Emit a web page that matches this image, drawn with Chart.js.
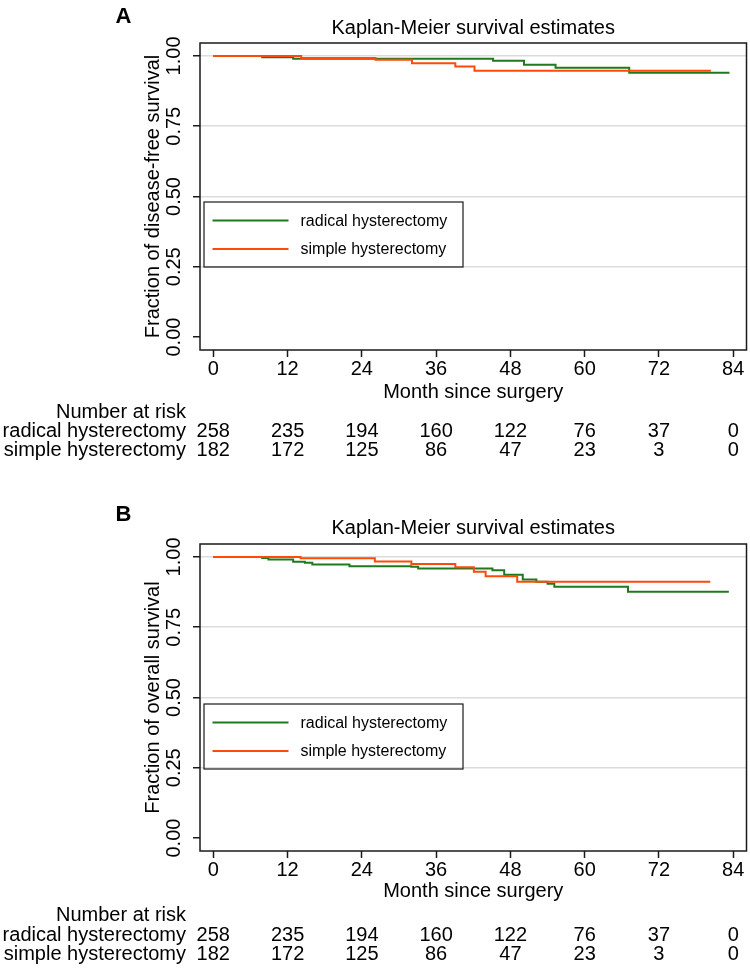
<!DOCTYPE html>
<html lang="en">
<head>
<meta charset="UTF-8">
<title>Kaplan-Meier survival estimates</title>
<script src="https://cdn.jsdelivr.net/npm/chart.js"></script>
<style>
    body { margin: 0; background: #fff; }
    .panel { position: absolute; left: 0; }
</style>
</head>
<body>
<canvas id="chartA" class="panel" style="top:0" width="750" height="501"></canvas>
<canvas id="chartB" class="panel" style="top:501px" width="750" height="475"></canvas>
<script>
// axis ticks
const monthTicks = [0, 12, 24, 36, 48, 60, 72, 84];
const survTicks = [0, 0.25, 0.5, 0.75, 1];
const groupNames = ['radical hysterectomy', 'simple hysterectomy'];

// number at risk (same table under both panels)
const riskRadical = [258, 235, 194, 160, 122, 76, 37, 0];
const riskSimple = [182, 172, 125, 86, 47, 23, 3, 0];

// panel A - disease-free survival, step times (months) and survival
const dfsRadicalT = [0, 7.9, 12.9, 45.2, 50.2, 55.3, 67.2, 83.4];
const dfsRadicalS = [1, 0.995, 0.990, 0.983, 0.969, 0.958, 0.940, 0.940];
const dfsSimpleT = [0, 14.2, 26.2, 32.1, 39.1, 42.2, 80.4];
const dfsSimpleS = [1, 0.993, 0.986, 0.974, 0.962, 0.947, 0.947];

// panel B - overall survival
const osRadicalT = [0, 7.9, 8.9, 12.9, 14.8, 16.0, 22.0, 32.0, 33.1, 45.1, 47.0, 50.0, 52.2, 54.0, 55.1, 67.0, 83.3];
const osRadicalS = [1, 0.996, 0.991, 0.983, 0.979, 0.973, 0.967, 0.965, 0.959, 0.953, 0.937, 0.920, 0.912, 0.905, 0.894, 0.876, 0.876];
const osSimpleT = [0, 14.1, 26.1, 32.0, 39.1, 42.1, 44.0, 49.1, 80.3];
const osSimpleS = [1, 0.995, 0.984, 0.975, 0.963, 0.947, 0.931, 0.912, 0.912];

const green = '#1f7a1f';
const orange = '#ff4a0a';
const FONT = '"Liberation Sans", Arial, Helvetica, sans-serif';

Chart.defaults.font.family = FONT;
Chart.defaults.color = '#000';

function toPoints(t, s) {
    return t.map((v, i) => ({ x: v, y: s[i] }));
}

const panelDecor = {
    id: 'panelDecor',
    afterDraw(chart, args, o) {
        const ctx = chart.ctx;
        const a = chart.chartArea;
        const x = chart.scales.x;
        const y = chart.scales.y;
        const midX = (a.left + a.right) / 2;
        ctx.save();

        // plot box
        ctx.strokeStyle = '#1a1a1a';
        ctx.lineWidth = 1.5;
        ctx.strokeRect(a.left, a.top, a.right - a.left, a.bottom - a.top);

        ctx.fillStyle = '#000';
        ctx.textBaseline = 'middle';
        ctx.textAlign = 'center';

        ctx.font = 'bold 22px ' + FONT;
        ctx.fillText(o.letter, 123.5, o.letterY);

        ctx.font = '20px ' + FONT;
        ctx.fillText('Kaplan-Meier survival estimates', midX, o.titleY);

        // y tick labels, rotated like stata
        survTicks.forEach(v => {
            ctx.save();
            ctx.translate(174, y.getPixelForValue(v));
            ctx.rotate(-Math.PI / 2);
            ctx.fillText(v.toFixed(2), 0, 0);
            ctx.restore();
        });
        ctx.save();
        ctx.translate(153.5, (a.top + a.bottom) / 2);
        ctx.rotate(-Math.PI / 2);
        ctx.fillText(o.yTitle, 0, 0);
        ctx.restore();

        // x tick labels + title
        monthTicks.forEach(m => {
            ctx.fillText(String(m), x.getPixelForValue(m), o.xTickY);
        });
        ctx.fillText('Month since surgery', midX, o.xTitleY);

        // number at risk table
        ctx.textAlign = 'right';
        ctx.fillText('Number at risk', 186, o.riskY[0]);
        ctx.fillText(groupNames[0], 186, o.riskY[1]);
        ctx.fillText(groupNames[1], 186, o.riskY[2]);
        ctx.textAlign = 'center';
        monthTicks.forEach((m, i) => {
            const px = x.getPixelForValue(m);
            ctx.fillText(String(riskRadical[i]), px, o.riskY[1]);
            ctx.fillText(String(riskSimple[i]), px, o.riskY[2]);
        });

        // legend
        const lt = o.legendTop;
        ctx.strokeStyle = '#1a1a1a';
        ctx.lineWidth = 1.2;
        ctx.strokeRect(204, lt, 259, 65);
        ctx.font = '16px ' + FONT;
        ctx.textAlign = 'left';
        chart.data.datasets.forEach((ds, i) => {
            const ly = lt + 18.5 + i * 28.5;
            ctx.strokeStyle = ds.borderColor;
            ctx.lineWidth = 2;
            ctx.beginPath();
            ctx.moveTo(212.5, ly);
            ctx.lineTo(288.5, ly);
            ctx.stroke();
            ctx.fillText(ds.label, 300.5, ly + 1);
        });
        ctx.restore();
    }
};

function makePanel(id, height, radT, radS, simT, simS, decor) {
    new Chart(document.getElementById(id), {
        type: 'line',
        data: {
            datasets: [
                { label: groupNames[0], data: toPoints(radT, radS), borderColor: green, borderWidth: 2, stepped: true, pointRadius: 0, fill: false, order: 2 },
                { label: groupNames[1], data: toPoints(simT, simS), borderColor: orange, borderWidth: 2, stepped: true, pointRadius: 0, fill: false, order: 1 }
            ]
        },
        options: {
            responsive: false,
            animation: false,
            devicePixelRatio: 1,
            layout: { padding: { left: 190, right: 3.5, top: 43, bottom: height - 360 } },
            plugins: {
                legend: { display: false },
                tooltip: { enabled: false },
                panelDecor: decor
            },
            scales: {
                x: {
                    type: 'linear',
                    min: -2.15,
                    max: 86.15,
                    afterBuildTicks: s => { s.ticks = monthTicks.map(v => ({ value: v })); },
                    afterFit: s => { s.height = 10; },
                    grid: { drawOnChartArea: false, drawTicks: true, tickLength: 7, tickColor: '#1a1a1a', tickWidth: 1.5 },
                    border: { display: false },
                    ticks: { display: false }
                },
                y: {
                    type: 'linear',
                    min: -0.046,
                    max: 1.046,
                    afterBuildTicks: s => { s.ticks = survTicks.map(v => ({ value: v })); },
                    afterFit: s => { s.width = 10; },
                    grid: {
                        color: c => c.tick && c.tick.value === 0 ? 'rgba(0,0,0,0)' : '#dcdcdc',
                        lineWidth: 1.5,
                        tickLength: 7,
                        tickColor: '#1a1a1a',
                        tickWidth: 1.5
                    },
                    border: { display: false },
                    ticks: { display: false }
                }
            }
        },
        plugins: [panelDecor]
    });
}

makePanel('chartA', 501, dfsRadicalT, dfsRadicalS, dfsSimpleT, dfsSimpleS, {
    letter: 'A', letterY: 16.5, titleY: 28, xTickY: 369, xTitleY: 392, riskY: [412, 431, 450],
    legendTop: 202, yTitle: 'Fraction of disease-free survival'
});
makePanel('chartB', 475, osRadicalT, osRadicalS, osSimpleT, osSimpleS, {
    letter: 'B', letterY: 13.5, titleY: 27.5, xTickY: 369, xTitleY: 390, riskY: [414, 434, 453],
    legendTop: 203, yTitle: 'Fraction of overall survival'
});
</script>
</body>
</html>
